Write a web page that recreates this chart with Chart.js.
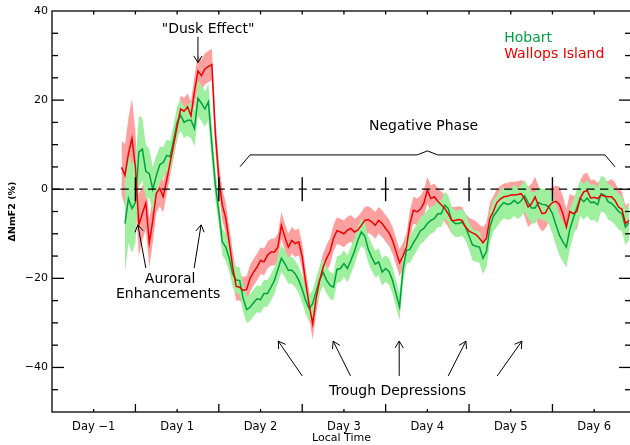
<!DOCTYPE html>
<html>
<head>
<meta charset="utf-8">
<script src="https://cdn.jsdelivr.net/npm/chart.js"></script>
<style>
html, body { margin: 0; padding: 0; overflow: hidden; background: #fff; }
#wrap { width: 634px; height: 445px; }
</style>
</head>
<body>
<div id="wrap"><canvas id="c" width="634" height="445"></canvas></div>
<script>
// Local-time axis in hours, counted from the start of Day -1.
const dayLabels = ['Day −1', 'Day 1', 'Day 2', 'Day 3', 'Day 4', 'Day 5', 'Day 6'];
const dayBounds = [24, 48, 72, 96, 120, 144];

// Wallops Island: hourly mean ΔNmF2 (%) from hour 20, and the half-width of its spread band.
const wallopsStart = 20;
const wallops = [
  4.9, 3.1, 8, 11.4, 5, -8, -5.4, -3.1, -12.1, -7,
  -0.9, 0.2, -1.7, 2, 6, 10, 14, 18, 17.5, 18.5,
  16.5, 22, 26.5, 25.5, 27, 27.5, 28, 12.5, 2.5, -3.5,
  -6.5, -12, -17.5, -21.8, -22, -22.7, -22.5, -20, -18.6, -17.5,
  -16, -16.3, -14.8, -14.1, -14.1, -13, -8.1, -10.7, -13, -11.5,
  -12.2, -11.8, -15.2, -21, -26, -30.2, -24.5, -20.5, -17.5, -15.5,
  -14, -11, -9.3, -9.6, -10, -9.2, -8.8, -9.6, -9.2, -8.1,
  -7, -6.8, -7.3, -8.1, -7, -7.7, -8.8, -9.8, -11.5, -14,
  -16.5, -15, -13, -7.7, -4.7, -5.1, -4.5, -3.2, -0.2, -2.1,
  -1.7, -2.7, -3.5, -4.3, -5.5, -7, -7, -6.8, -7, -8.5,
  -9.4, -9.8, -10.2, -11, -12, -11, -6.5, -5, -3, -2.2,
  -1.7, -1.6, -1.3, -1.3, -1.2, -1, -2.2, -4, -3.2, -1.7,
  -3.8, -5.5, -5.3, -3.8, -3, -2.7, -3.4, -5.5, -8.5, -5,
  -5.5, -5, -2, -0.6, -0.3, -2, -1.8, -2.1, -1.3, -1.6,
  -1.7, -1.7, -2.5, -4, -4.5, -7.7, -7
];
const wallopsSpread = [
  6, 7, 8, 9, 8, 7, 6, 6, 5.5, 5,
  4.5, 4, 3.5, 3, 3, 3, 3, 3, 3, 3,
  3.2, 3.4, 3.5, 3.5, 3.5, 3.5, 3.5, 3.5, 3.5, 3.5,
  3.5, 3.5, 3.5, 3.2, 3, 3, 3, 3, 3, 3,
  3, 3, 3, 3, 3, 3, 3, 3, 3, 3,
  3, 3, 3, 3, 3, 3.5, 3.5, 3, 3, 3,
  3, 3, 3, 3, 3, 3, 3, 3, 3, 3,
  3, 3, 3, 3, 3, 3, 3, 3, 3, 3,
  3, 3, 3, 3, 3, 3, 3, 3, 3, 3,
  3, 3, 3, 3, 3, 3, 3, 3, 3, 3,
  3, 3, 3, 3, 3.5, 3.5, 3.5, 3.5, 3, 3,
  3, 3, 3, 3, 3, 3, 4, 4.5, 4.5, 4.5,
  4.5, 4, 3.5, 3.5, 3.5, 3.5, 4, 4, 4, 4,
  4, 4, 4, 4, 4, 4, 4, 3.5, 3.5, 3.5,
  3.5, 4, 4, 4, 4, 4, 4
];

// Hobart: hourly mean ΔNmF2 (%) from hour 21, and the half-width of its spread band.
const hobartStart = 21;
const hobart = [
  -7.7, -2.1, -4.3, -3, 8.4, 9, 4, 3.5, 0, 3,
  5.5, 6, 7.6, 7.3, 11, 15, 16.6, 15, 15.5, 15.5,
  13.6, 20.4, 19.3, 18, 19.6, 10, 1, -5, -11.8, -13,
  -15.5, -19, -20.4, -20.5, -24.5, -27, -26.5, -25.5, -24.6, -24.8,
  -23.4, -23.4, -22, -20.5, -18, -15.5, -16.7, -18.2, -18.2, -19,
  -20.4, -22.5, -25, -26.8, -25.7, -23, -20.4, -18.6, -20.4, -21.6,
  -22, -18, -17.8, -16.7, -17.8, -16, -14, -11.5, -9.6, -10.5,
  -13.5, -15.3, -16.8, -16.3, -18.6, -17.8, -18.5, -20.5, -23.5, -26.4,
  -18, -13.7, -13.5, -12, -10.8, -9.3, -8.8, -7.7, -7, -6.6,
  -5.5, -5.5, -3.6, -4.3, -7, -7.7, -7.7, -7.4, -8.5, -10.5,
  -12.5, -12.8, -13, -15.5, -14, -8.5, -6, -5, -3.8, -3,
  -3.4, -3.2, -2.5, -3.2, -2.6, -1.5, -3, -4.2, -4.2, -3,
  -3.4, -3.5, -4, -5.5, -8, -10.3, -11.8, -13, -9, -6.5,
  -4.2, -2, -2.8, -2, -3, -2.9, -3.5, -1, -1.3, -2.8,
  -3.2, -4, -5, -5.5, -8.5, -7.5
];
const hobartSpread = [
  11, 10, 10, 9, 8, 7, 6, 5.5, 5, 4.5,
  4, 3.5, 3.5, 3.5, 3.5, 3.5, 3.5, 3.5, 3.5, 4,
  4, 4, 4, 4, 4, 4, 3.5, 3, 3, 3,
  3, 3, 3, 3, 3, 3, 3, 3, 3, 3,
  3, 3, 3, 3, 3, 3, 3, 3, 3, 3,
  3, 3, 3, 3, 3, 3, 3, 3, 3, 3,
  3, 3, 3, 3, 3, 3, 3, 3, 3, 3,
  3, 3, 3, 3, 3, 3, 3, 3, 3, 3,
  3, 3, 3, 3, 3, 3, 3, 3, 3, 3,
  3, 3, 3, 3, 3, 3, 3, 3, 3, 3,
  3.5, 3.5, 3.5, 3.5, 3.5, 3.5, 3.5, 3.5, 3.5, 3.5,
  3.5, 3.5, 3.5, 3.5, 3.5, 3.5, 3.5, 3.5, 3.5, 3.5,
  3.5, 3.5, 4, 4.5, 4.5, 4.5, 4.5, 4.5, 4.5, 4,
  4, 4, 4, 4, 4, 4, 4, 4, 4, 4,
  4, 4, 4, 4, 4, 4
];

// Y tick values that carry a label
const yLabelled = [40, 20, 0, -20, -40];

// Annotations placed in data units (hours, %)
const notes = [
  { text: '"Dusk Effect"', x: 44.9, y: 35.8, align: 'center', color: '#000' },
  { text: 'Hobart', x: 130.1, y: 33.9, align: 'left', color: '#00a040' },
  { text: 'Wallops Island', x: 130.1, y: 30.3, align: 'left', color: '#f00000' },
  { text: 'Negative Phase', x: 106.9, y: 14.0, align: 'center', color: '#000' },
  { text: 'Auroral', x: 34.0, y: -20.2, align: 'center', color: '#000' },
  { text: 'Enhancements', x: 33.4, y: -23.5, align: 'center', color: '#000' },
  { text: 'Trough Depressions', x: 99.4, y: -45.3, align: 'center', color: '#000' }
];
// Arrows: [fromHour, fromValue, toHour, toValue]
const arrows = [
  [42.0, 34.2, 42.0, 28.4],
  [27.0, -17.7, 24.7, -8.0],
  [40.9, -17.7, 42.9, -8.0],
  [72.0, -41.9, 65.1, -34.1],
  [85.9, -41.9, 80.9, -34.1],
  [99.9, -41.9, 99.9, -34.1],
  [114.0, -41.9, 119.1, -34.1],
  [128.1, -41.9, 135.2, -34.1]
];
// Brace over the negative phase
const bracket = [[54.1, 5.05], [57.0, 7.7], [105.1, 7.7], [108.0, 8.6], [111.0, 7.7], [159.1, 7.7], [162.0, 5.05]];

const RED = '#f00000', GREEN = '#00a040';
const RED_BAND = '#ffa0a0', GREEN_BAND = '#9ef09e';

const pts = (start, vals, spread, sign) =>
  vals.map((v, i) => ({ x: start + i, y: spread ? v + sign * spread[i] : v }));

const FONT = '"DejaVu Sans", sans-serif';

const decorations = {
  id: 'decorations',
  afterDatasetsDraw(chart) {
    const { ctx, chartArea: a, scales: { x, y } } = chart;
    const y0 = y.getPixelForValue(0);
    ctx.save();
    ctx.strokeStyle = '#000';
    ctx.lineWidth = 1.2;
    ctx.setLineDash([8.3, 5.4]);
    ctx.beginPath();
    ctx.moveTo(a.left, y0);
    ctx.lineTo(a.right, y0);
    ctx.stroke();
    ctx.setLineDash([]);
    ctx.lineWidth = 1.4;
    for (const d of dayBounds) {
      const px = x.getPixelForValue(d);
      ctx.beginPath();
      ctx.moveTo(px, y0 - 12);
      ctx.lineTo(px, y0 + 12);
      ctx.stroke();
    }
    ctx.restore();
  },
  afterDraw(chart) {
    const { ctx, chartArea: a, scales: { x, y } } = chart;
    ctx.save();
    ctx.strokeStyle = '#000';
    ctx.lineWidth = 1.3;
    ctx.strokeRect(a.left, a.top, a.right - a.left, a.bottom - a.top);

    const seg = (x1, y1, x2, y2) => { ctx.beginPath(); ctx.moveTo(x1, y1); ctx.lineTo(x2, y2); ctx.stroke(); };

    // time ticks every half day
    for (let h = 12; h < x.max; h += 12) {
      const px = x.getPixelForValue(h);
      const major = h % 24 === 0;
      seg(px, a.bottom, px, a.bottom - (major ? 8 : 3));
      seg(px, a.top, px, a.top + 3.5);
    }
    // value ticks every 5 %
    for (let v = y.min + 5; v < y.max; v += 5) {
      const py = y.getPixelForValue(v);
      const len = v % 20 === 0 ? 12 : 6;
      seg(a.left, py, a.left + len, py);
      seg(a.right, py, a.right - len, py);
    }

    // arrows
    ctx.lineWidth = 1;
    for (const [h1, v1, h2, v2] of arrows) {
      const x1 = x.getPixelForValue(h1), y1 = y.getPixelForValue(v1);
      const x2 = x.getPixelForValue(h2), y2 = y.getPixelForValue(v2);
      seg(x1, y1, x2, y2);
      const ang = Math.atan2(y2 - y1, x2 - x1);
      const L = 8, W = 0.55;
      seg(x2, y2, x2 - L * Math.cos(ang - W), y2 - L * Math.sin(ang - W));
      seg(x2, y2, x2 - L * Math.cos(ang + W), y2 - L * Math.sin(ang + W));
    }
    // brace
    ctx.beginPath();
    bracket.forEach(([h, v], i) => {
      const px = x.getPixelForValue(h), py = y.getPixelForValue(v);
      if (i === 0) ctx.moveTo(px, py); else ctx.lineTo(px, py);
    });
    ctx.stroke();

    // text notes
    ctx.font = '14px ' + FONT;
    ctx.textBaseline = 'middle';
    for (const n of notes) {
      ctx.fillStyle = n.color;
      ctx.textAlign = n.align;
      ctx.fillText(n.text, x.getPixelForValue(n.x), y.getPixelForValue(n.y));
    }
    ctx.restore();
  }
};

new Chart(document.getElementById('c'), {
  type: 'line',
  data: {
    datasets: [
      { label: 'Wallops Island', data: pts(wallopsStart, wallops), borderColor: RED, borderWidth: 1.5,
        pointRadius: 0, fill: false, order: 0 },
      { label: 'Hobart', data: pts(hobartStart, hobart), borderColor: GREEN, borderWidth: 1.5,
        pointRadius: 0, fill: false, order: 1 },
      { label: 'Hobart upper', data: pts(hobartStart, hobart, hobartSpread, 1), borderColor: 'rgba(0,0,0,0)',
        borderWidth: 0, pointRadius: 0, backgroundColor: GREEN_BAND, fill: '+1', order: 2 },
      { label: 'Hobart lower', data: pts(hobartStart, hobart, hobartSpread, -1), borderColor: 'rgba(0,0,0,0)',
        borderWidth: 0, pointRadius: 0, fill: false, order: 2 },
      { label: 'Wallops upper', data: pts(wallopsStart, wallops, wallopsSpread, 1), borderColor: 'rgba(0,0,0,0)',
        borderWidth: 0, pointRadius: 0, backgroundColor: RED_BAND, fill: '+1', order: 3 },
      { label: 'Wallops lower', data: pts(wallopsStart, wallops, wallopsSpread, -1), borderColor: 'rgba(0,0,0,0)',
        borderWidth: 0, pointRadius: 0, fill: false, order: 3 }
    ]
  },
  options: {
    responsive: false,
    animation: false,
    devicePixelRatio: 1,
    layout: { padding: { top: 11, right: 3, left: 0, bottom: 0 } },
    plugins: { legend: { display: false }, tooltip: { enabled: false } },
    scales: {
      x: {
        type: 'linear', min: 0, max: 166.6,
        grid: { display: false, drawTicks: false },
        border: { display: false },
        ticks: {
          stepSize: 12, autoSkip: false, maxRotation: 0, includeBounds: false, padding: 8,
          color: '#000', font: { family: FONT, size: 11.5 },
          callback: (v) => {
            const k = Math.round(v / 12);
            return (Math.abs(v - k * 12) < 0.01 && k % 2 === 1) ? dayLabels[(k - 1) / 2] : '';
          }
        },
        title: { display: true, text: 'Local Time', color: '#000', font: { family: FONT, size: 11 },
                 padding: { top: 0, bottom: 0 } },
        afterFit: (s) => { s.height = 33; }
      },
      y: {
        min: -50, max: 40,
        grid: { display: false, drawTicks: false },
        border: { display: false },
        ticks: {
          stepSize: 5, autoSkip: false, padding: 4, color: '#000', font: { family: FONT, size: 11 },
          callback: (v) => yLabelled.includes(v) ? String(v).replace('-', '−') : ''
        },
        title: { display: true, text: 'ΔNmF2 (%)', color: '#000', font: { family: FONT, size: 9.5, weight: 'bold' },
                 padding: { top: 7.3, bottom: 0 } },
        afterFit: (s) => { s.width = 52; }
      }
    }
  },
  plugins: [decorations]
});
</script>
</body>
</html>
